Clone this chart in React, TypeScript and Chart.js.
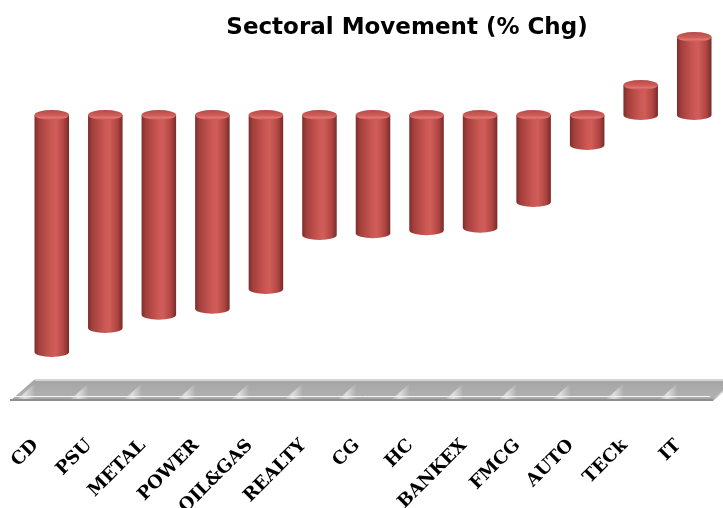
import React, { useEffect, useRef } from "react";
import { Chart, registerables } from "chart.js";

Chart.register(...registerables);

// Sector performance, % change
const sectors = ["CD", "PSU", "METAL", "POWER", "OIL&GAS", "REALTY", "CG", "HC", "BANKEX", "FMCG", "AUTO", "TECk", "IT"];
const pctChange = [-3.95, -3.55, -3.33, -3.23, -2.9, -2.0, -1.97, -1.92, -1.88, -1.45, -0.5, 0.5, 1.3];
const chartTitle = "Sectoral Movement (% Chg)";

const W = 723;
const H = 508;

// 3D-looking floor slab below the plot
const floorPlugin = {
  id: "floorSlab",
  beforeDatasetsDraw(chart: any) {
    const { ctx, chartArea } = chart;
    const xs = chart.scales.x;
    const top = chartArea.bottom;
    const depth = 22;
    const bottom = top + depth;
    const skew = 25;
    const bl = chartArea.left - 15;
    const br = chartArea.right - 8;
    ctx.save();
    ctx.beginPath();
    ctx.moveTo(bl, bottom);
    ctx.lineTo(bl + skew, top);
    ctx.lineTo(br + skew, top);
    ctx.lineTo(br, bottom);
    ctx.closePath();
    const g = ctx.createLinearGradient(0, top, 0, bottom);
    g.addColorStop(0, "#c8c8c8");
    g.addColorStop(0.12, "#a6a6a6");
    g.addColorStop(0.8, "#b0b0b0");
    g.addColorStop(1, "#9c9c9c");
    ctx.fillStyle = g;
    ctx.fill();
    ctx.clip();
    // soft diagonal light streaks at category boundaries
    const n = sectors.length;
    const step = xs.getPixelForTick(1) - xs.getPixelForTick(0);
    for (let i = 0; i <= n; i++) {
      const cx = i === n ? xs.getPixelForTick(n - 1) + step / 2 : xs.getPixelForTick(i) - step / 2;
      const lg = ctx.createLinearGradient(cx - 10, 0, cx + 10, 0);
      lg.addColorStop(0, "rgba(255,255,255,0)");
      lg.addColorStop(0.5, "rgba(255,255,255,0.6)");
      lg.addColorStop(1, "rgba(255,255,255,0)");
      ctx.fillStyle = lg;
      ctx.beginPath();
      ctx.moveTo(cx - 10, bottom);
      ctx.lineTo(cx - 10 + skew, top);
      ctx.lineTo(cx + 10 + skew, top);
      ctx.lineTo(cx + 10, bottom);
      ctx.closePath();
      ctx.fill();
    }
    ctx.restore();
    ctx.save();
    ctx.strokeStyle = "#d4d4d4";
    ctx.lineWidth = 2;
    ctx.beginPath();
    ctx.moveTo(bl + skew, top + 1);
    ctx.lineTo(br + skew, top + 1);
    ctx.stroke();
    ctx.strokeStyle = "#f4f4f4";
    ctx.lineWidth = 1;
    ctx.beginPath();
    ctx.moveTo(bl + 5, bottom - 4.5);
    ctx.lineTo(br - 3, bottom - 4.5);
    ctx.stroke();
    ctx.strokeStyle = "#8e8e8e";
    ctx.lineWidth = 2;
    ctx.beginPath();
    ctx.moveTo(bl, bottom - 1);
    ctx.lineTo(br, bottom - 1);
    ctx.stroke();
    ctx.restore();
  },
};

// Draws each bar element as a shaded cylinder
const cylinderPlugin = {
  id: "cylinders",
  afterDatasetsDraw(chart: any) {
    const ctx = chart.ctx;
    const meta = chart.getDatasetMeta(0);
    meta.data.forEach((bar: any) => {
      const { x, y, base, width } = bar.getProps(["x", "y", "base", "width"], true);
      const left = x - width / 2;
      const right = x + width / 2;
      const top = Math.min(y, base);
      const bottom = Math.max(y, base);
      const rx = width / 2;
      const ry = 5;
      ctx.save();
      const g = ctx.createLinearGradient(left, 0, right, 0);
      g.addColorStop(0, "#7c2e2c");
      g.addColorStop(0.12, "#a23f3c");
      g.addColorStop(0.5, "#cd5955");
      g.addColorStop(0.62, "#d05d59");
      g.addColorStop(0.85, "#b04542");
      g.addColorStop(1, "#772b29");
      ctx.beginPath();
      ctx.moveTo(left, top);
      ctx.lineTo(left, bottom);
      ctx.ellipse(x, bottom, rx, ry, 0, Math.PI, 0, true);
      ctx.lineTo(right, top);
      ctx.closePath();
      ctx.fillStyle = g;
      ctx.fill();
      const tg = ctx.createLinearGradient(0, top - ry, 0, top + ry);
      tg.addColorStop(0, "#b54a47");
      tg.addColorStop(0.55, "#cf5e5a");
      tg.addColorStop(0.75, "#e0736e");
      tg.addColorStop(1, "#c95753");
      ctx.beginPath();
      ctx.ellipse(x, top, rx, ry, 0, 0, Math.PI * 2);
      ctx.fillStyle = tg;
      ctx.fill();
      ctx.restore();
    });
  },
};

const titlePlugin = {
  id: "topTitle",
  afterDraw(chart: any) {
    const ctx = chart.ctx;
    ctx.save();
    ctx.font = "bold 23px 'DejaVu Sans'";
    ctx.fillStyle = "#000000";
    ctx.textAlign = "center";
    ctx.textBaseline = "alphabetic";
    ctx.fillText(chartTitle, 407, 34);
    ctx.restore();
  },
};

export default function App() {
  const canvasRef = useRef<HTMLCanvasElement | null>(null);

  useEffect(() => {
    if (!canvasRef.current) return;
    const chart = new Chart(canvasRef.current, {
      type: "bar",
      data: {
        labels: sectors,
        datasets: [
          {
            label: chartTitle,
            data: pctChange,
            backgroundColor: "rgba(0,0,0,0)",
            borderWidth: 0,
            categoryPercentage: 1,
            barPercentage: 0.645,
          },
        ],
      },
      options: {
        animation: false,
        responsive: false,
        layout: { padding: { top: 25, left: 25, right: 2, bottom: 0 } },
        plugins: {
          legend: { display: false },
          title: { display: false },
          tooltip: { enabled: false },
        },
        scales: {
          x: {
            grid: { display: false, drawTicks: false },
            border: { display: false },
            afterFit: (scale: any) => {
              scale.height = 129;
              scale.paddingLeft = 0;
              scale.paddingRight = 0;
            },
            ticks: {
              autoSkip: false,
              minRotation: 45,
              maxRotation: 45,
              padding: 56,
              labelOffset: -16,
              color: "#000000",
              font: { family: "'DejaVu Serif'", weight: "bold", size: 18 },
            },
          },
          y: {
            display: false,
            min: -4.4,
            max: 1.5,
          },
        },
      },
      plugins: [floorPlugin, cylinderPlugin, titlePlugin],
    });
    return () => chart.destroy();
  }, []);

  return (
    <div style={{ position: "fixed", left: 0, top: 0, width: W, height: H, background: "#ffffff" }}>
      <canvas ref={canvasRef} width={W} height={H} />
    </div>
  );
}
